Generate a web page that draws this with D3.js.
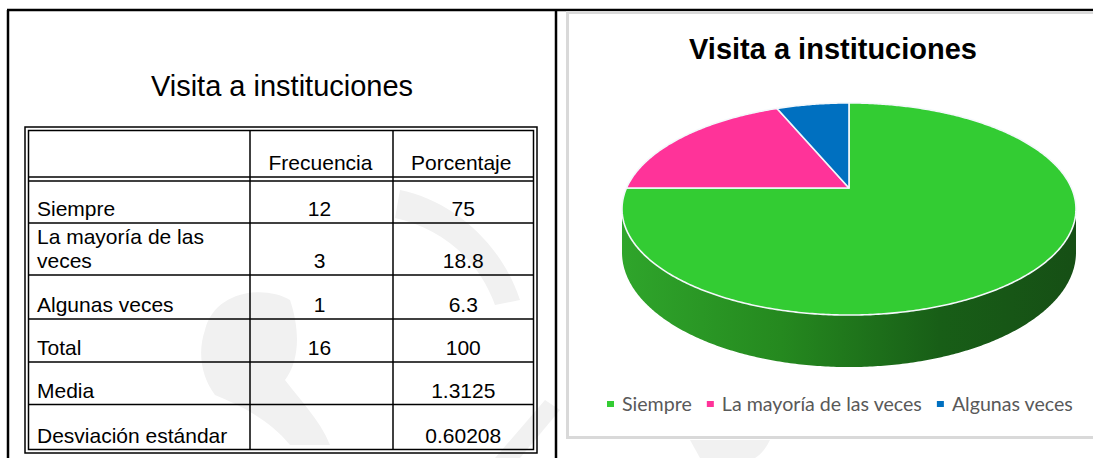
<!DOCTYPE html>
<html>
<head>
<meta charset="utf-8">
<script src="https://cdn.jsdelivr.net/npm/d3@7"></script>
<style>
 body{margin:0;background:#fff}
 svg{display:block}
</style>
</head>
<body>
<script>
// datos de la tabla y del grafico
var title = "Visita a instituciones";
var headers = ["Frecuencia", "Porcentaje"];
var rowLabels = [["Siempre"], ["La mayoría de las", "veces"], ["Algunas veces"], ["Total"], ["Media"], ["Desviación estándar"]];
var frecuencia = ["12", "3", "1", "16", "", ""];
var porcentaje = ["75", "18.8", "6.3", "100", "1.3125", "0.60208"];
var categories = ["Siempre", "La mayoría de las veces", "Algunas veces"];
var pieValues = [12, 3, 1];
var colors = ["#33cc33", "#ff3399", "#0070c0"];

var W = 1093, H = 458;
var svg = d3.select("body").append("svg").attr("width", W).attr("height", H);

// marca de agua (muy tenue)
var wm = svg.append("g").attr("fill", "#f1f1f1").attr("stroke", "none");
wm.append("path").attr("d", "M205,330 C215,290 265,285 290,300 C300,330 300,360 285,380 C300,400 320,420 330,445 L290,445 C270,420 240,405 215,395 C200,375 198,350 205,330 Z");
wm.append("path").attr("d", "M400,190 C450,200 500,240 520,300 L495,305 C478,258 440,228 395,218 Z");
wm.append("path").attr("d", "M495,458 L545,400 L560,410 L520,458 Z");
wm.append("path").attr("d", "M690,440 L770,440 C765,450 760,455 755,458 L700,458 Z");

// marco exterior
var frame = svg.append("g").attr("stroke", "#000").attr("stroke-width", 2.5).attr("fill", "none");
frame.append("line").attr("x1", 7).attr("x2", W).attr("y1", 10).attr("y2", 10);
frame.append("line").attr("x1", 8).attr("x2", 8).attr("y1", 10).attr("y2", H);
frame.append("line").attr("x1", 556).attr("x2", 556).attr("y1", 10).attr("y2", H);

// ---- tabla ----
svg.append("text").attr("x", 282).attr("y", 96).attr("text-anchor", "middle")
  .style("font-family", "'Liberation Sans', Arial, sans-serif").style("font-size", "29px")
  .attr("fill", "#000").text(title);

var tb = svg.append("g").attr("stroke", "#000").attr("stroke-width", 1.5).attr("fill", "none");
tb.append("rect").attr("x", 25).attr("y", 127).attr("width", 512).attr("height", 326);
tb.append("rect").attr("x", 28.5).attr("y", 130.5).attr("width", 505).attr("height", 319);
var colX = [250, 393];
colX.forEach(function(x) {
  tb.append("line").attr("x1", x).attr("x2", x).attr("y1", 130.5).attr("y2", 449.5);
});
var rowEdges = [181, 223, 275, 319, 362, 404.5, 449.5];
tb.append("line").attr("x1", 28.5).attr("x2", 533.5).attr("y1", 177).attr("y2", 177);
rowEdges.slice(0, -1).forEach(function(y) {
  tb.append("line").attr("x1", 28.5).attr("x2", 533.5).attr("y1", y).attr("y2", y);
});

var cellFont = function(sel) {
  return sel.style("font-family", "'Liberation Sans', Arial, sans-serif").style("font-size", "21px").attr("fill", "#000");
};
var c2 = (colX[0] + colX[1]) / 2 - 2, c3 = (colX[1] + 533.5) / 2;
cellFont(svg.append("text").attr("x", c2 + 1).attr("y", 170).attr("text-anchor", "middle").text(headers[0]));
cellFont(svg.append("text").attr("x", c3 - 2).attr("y", 170).attr("text-anchor", "middle").text(headers[1]));

rowLabels.forEach(function(lines, i) {
  var base = rowEdges[i + 1] - 7;
  lines.forEach(function(t, j) {
    cellFont(svg.append("text").attr("x", 37).attr("y", base - (lines.length - 1 - j) * 24).text(t));
  });
  cellFont(svg.append("text").attr("x", c2).attr("y", base).attr("text-anchor", "middle").text(frecuencia[i]));
  cellFont(svg.append("text").attr("x", c3).attr("y", base).attr("text-anchor", "middle").text(porcentaje[i]));
});

// ---- grafico ----
svg.append("rect").attr("x", 567.5).attr("y", 12.5).attr("width", 560).attr("height", 425)
  .attr("fill", "none").attr("stroke", "#d9d9d9").attr("stroke-width", 3);

svg.append("text").attr("x", 833).attr("y", 59).attr("text-anchor", "middle")
  .style("font-family", "'Liberation Sans', Arial, sans-serif").style("font-size", "29px")
  .style("font-weight", "bold").attr("fill", "#000").text(title);

// pastel 3D con perspectiva
var cx = 849, cy = 188, R = 222.5, ky = 101.9, b = 0.198, T = 41.7;
function proj(theta, drop) {
  var u = Math.sin(theta), v = -Math.cos(theta), s = 1 / (1 - b * v);
  return [cx + R * u * s, cy + ky * v * s + (drop ? T * s : 0)];
}
function arcPts(a0, a1, drop) {
  var n = Math.max(2, Math.ceil(Math.abs(a1 - a0) / 0.01)), pts = [];
  for (var i = 0; i <= n; i++) pts.push(proj(a0 + (a1 - a0) * i / n, drop));
  return pts;
}
var line = d3.line();

var defs = svg.append("defs");
var grad = defs.append("linearGradient").attr("id", "side").attr("gradientUnits", "userSpaceOnUse")
  .attr("x1", 622).attr("x2", 1076).attr("y1", 0).attr("y2", 0);
[[0, "#2fa52b"], [0.35, "#25891f"], [0.7, "#185e17"], [1, "#164f15"]].forEach(function(s) {
  grad.append("stop").attr("offset", s[0]).attr("stop-color", s[1]);
});

var t1 = Math.acos(-b), t2 = 2 * Math.PI - t1;
var sidePts = arcPts(t1, t2, false).concat(arcPts(t2, t1, true));
svg.append("path").attr("d", line(sidePts) + "Z").attr("fill", "url(#side)");

var pie = d3.pie().sort(null).value(function(d) { return d; });
var arcs = pie(pieValues);
svg.selectAll("path.slice").data(arcs).enter().append("path")
  .attr("class", "slice")
  .attr("d", function(d) { return line([[cx, cy]].concat(arcPts(d.startAngle, d.endAngle, false))) + "Z"; })
  .attr("fill", function(d, i) { return colors[i]; })
  .attr("stroke", "#f4f8fb").attr("stroke-width", 1.6).attr("stroke-linejoin", "round");

// leyenda
var lg = svg.append("g");
var items = lg.selectAll("g").data(categories).enter().append("g");
items.append("rect").attr("width", 7).attr("height", 6).attr("y", 401)
  .attr("fill", function(d, i) { return colors[i]; });
var texts = items.append("text").attr("y", 411)
  .style("font-family", "Lato, 'Open Sans', sans-serif").style("font-size", "20px")
  .attr("fill", "#595959").text(function(d) { return d; });
var total = 0;
texts.each(function() { total += this.getComputedTextLength(); });
var fs = 20 * (466 - 3 * 15 - 2 * 15) / total;
texts.style("font-size", fs + "px");
var x = 607;
items.each(function() {
  var g = d3.select(this);
  g.select("rect").attr("x", x);
  g.select("text").attr("x", x + 15);
  x += 15 + g.select("text").node().getComputedTextLength() + 15;
});
</script>
</body>
</html>
